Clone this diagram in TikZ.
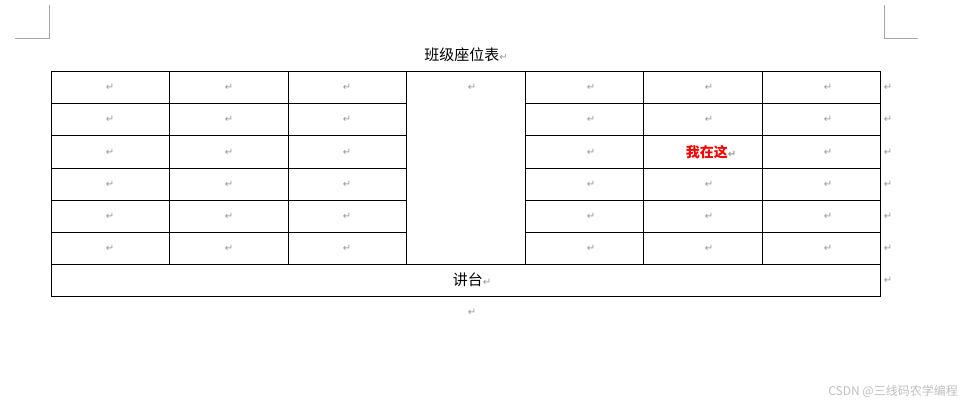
\documentclass[tikz,border=0pt]{standalone}
\usepackage{fontspec}
\newfontfamily\cjk{Noto Sans CJK SC}
\newfontfamily\djv{DejaVu Sans}
\begin{document}
\begin{tikzpicture}[x=1pt,y=-1pt,
  ret/.style={text=gray!80,font=\djv\fontsize{10}{10}\selectfont,inner sep=0},
  cjkt/.style={font=\cjk\fontsize{15}{15}\selectfont,inner sep=0},
  tl/.style={line width=0.6pt}]
\useasboundingbox[fill=white] (0,0) rectangle (973,412);
\draw[gray!70,line width=0.5pt] (49,5) -- (49,38) -- (15,38);
\draw[gray!70,line width=0.5pt] (884,5) -- (884,38) -- (918,38);
\node[cjkt] (title) at (466,55) {班级座位表\textcolor{gray!80}{\djv\fontsize{10}{10}\selectfont ↵}};
\draw[tl] (51,71) rectangle (880,296);
\draw[tl] (51,264) -- (880,264);
\foreach \y in {103,135,168,200,232} {\draw[tl] (51,\y) -- (406,\y); \draw[tl] (525,\y) -- (880,\y);}
\foreach \x in {169,288,406,525,643,762} \draw[tl] (\x,71) -- (\x,264);
\foreach \c/\x in {0/110,1/229,2/347,4/591,5/709,6/828}
  \foreach \r/\y in {0/87,1/119,2/152,3/184,4/216,5/248}
    {\ifnum\c=5 \ifnum\r=2 \else \node[ret] (c\c\r) at (\x,\y) {↵};\fi \else \node[ret] (c\c\r) at (\x,\y) {↵};\fi}
\node[ret] (mid) at (472,87) {↵};
\node[font=\cjk\bfseries\fontsize{14}{14}\selectfont,text=red,inner sep=0] (me) at (711,152) {我在这\textcolor{gray!80}{\djv\fontsize{10}{10}\selectfont ↵}};
\foreach \y in {87,119,152,184,216,248,280} \node[ret] at (888,\y) {↵};
\node[cjkt] (podium) at (472,280) {讲台\textcolor{gray!80}{\djv\fontsize{10}{10}\selectfont ↵}};
\node[ret] (after) at (472,312) {↵};
\node[font=\cjk\fontsize{12}{12}\selectfont,text=gray!50,inner sep=0,anchor=east] (wm) at (958,391) {CSDN @三线码农学编程};
\end{tikzpicture}
\end{document}
